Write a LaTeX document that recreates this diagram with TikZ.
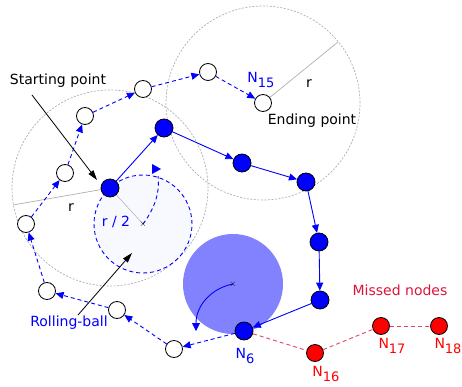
\documentclass[tikz,border=0pt]{standalone}
\usepackage{fontspec}
\setmainfont{DejaVu Sans}
\usetikzlibrary{arrows.meta}
\definecolor{ballfill}{RGB}{248,248,255}
\definecolor{bigball}{RGB}{130,130,255}
\definecolor{missed}{RGB}{220,20,60}
\definecolor{missedline}{RGB}{225,70,100}
\definecolor{gcol}{RGB}{175,175,175}
\newcommand{\subn}[1]{\raisebox{-5pt}{\fontsize{13}{13}\selectfont #1}}
\begin{document}
\begin{tikzpicture}[x=1pt,y=-1pt,
 bnode/.style={circle,draw=black,fill=blue,minimum size=18pt,inner sep=0pt,line width=0.8pt},
 wnode/.style={circle,draw=black,fill=white,minimum size=17pt,inner sep=0pt,line width=0.8pt},
 rnode/.style={circle,draw=black,fill=red,minimum size=17pt,inner sep=0pt,line width=0.8pt},
 gcirc/.style={draw=gcol,line width=0.7pt,dash pattern=on 2pt off 1.5pt},
 gline/.style={draw=gcol,line width=0.7pt},
 solidedge/.style={draw=blue,line width=0.9pt,-{Triangle[length=8pt,width=7pt]}},
 dashedge/.style={draw=blue,line width=0.9pt,dash pattern=on 4pt off 3pt,-{Triangle[length=8pt,width=7pt]}},
 missedge/.style={draw=missedline,line width=0.9pt,dash pattern=on 4pt off 3pt},
 blackarrow/.style={draw=black,line width=0.8pt,-{Triangle[length=10pt,width=6pt]}},
 lbl/.style={font=\fontsize{14}{16}\selectfont,inner sep=0pt},
 xmark/.style={font=\fontsize{9}{9}\selectfont,inner sep=0pt}
]
\useasboundingbox (0,0) rectangle (462,387);

% coordinates
\coordinate (cS) at (110,188);
\coordinate (cE) at (263,103);
\coordinate (cBall) at (143,224);
\coordinate (cBig) at (233,284);

% range circles
\draw[gcirc] (cS) circle[radius=98pt];
\draw[gcirc] (cE) circle[radius=97pt];
\coordinate (rS) at (13,205);
\coordinate (rE) at (338,42);
\draw[gline] (cS) -- (rS);
\draw[gline] (cE) -- (rE);

% rolling ball
\fill[ballfill] (cBall) circle[radius=49pt];
\draw[blue,line width=0.9pt,dash pattern=on 4pt off 3pt] (cBall) circle[radius=49pt];
\draw[gline,line width=0.5pt] (cS) -- (cBall);
\draw[blue,line width=0.9pt,dash pattern=on 4pt off 3pt] (cBall) .. controls (155,208) and (160,192) .. (158,176);
\fill[blue] (152,164) -- (161,169) -- (152,174) -- cycle;
\node[xmark] (xb) at (cBall) {$\times$};

% big ball
\fill[bigball] (cBig) circle[radius=50pt];
\coordinate (bigEnd) at (196,331);
\draw[blue,line width=0.9pt,-{Triangle[length=8pt,width=8pt]}] (cBig) .. controls (212,288) and (196,305) .. (bigEnd);
\node[xmark] (xg) at (cBig) {$\times$};

% nodes
\node[bnode] (S) at (110,188) {};
\node[bnode] (B1) at (164,128) {};
\node[bnode] (B2) at (242,163) {};
\node[bnode] (B3) at (306,182) {};
\node[bnode] (B4) at (319,242) {};
\node[bnode] (B5) at (320,300) {};
\node[bnode] (N6) at (244,331) {};

\node[wnode] (W1) at (263,103) {};
\node[wnode] (W2) at (208,72) {};
\node[wnode] (W3) at (143,89) {};
\node[wnode] (W4) at (85,116) {};
\node[wnode] (W5) at (65,173) {};
\node[wnode] (W6) at (26,224) {};
\node[wnode] (W7) at (47,291) {};
\node[wnode] (W8) at (117,310) {};
\node[wnode] (W9) at (174,349) {};

\node[rnode] (N16) at (315,353) {};
\node[rnode] (N17) at (381,326) {};
\node[rnode] (N18) at (439,326) {};

% edges
\draw[solidedge] (S) -- (B1);
\draw[solidedge] (B1) -- (B2);
\draw[solidedge] (B2) -- (B3);
\draw[solidedge] (B3) -- (B4);
\draw[solidedge] (B4) -- (B5);
\draw[solidedge] (B5) -- (N6);

\draw[dashedge] (N6) -- (W9);
\draw[dashedge] (W9) -- (W8);
\draw[dashedge] (W8) -- (W7);
\draw[dashedge] (W7) -- (W6);
\draw[dashedge] (W6) -- (W5);
\draw[dashedge] (W5) -- (W4);
\draw[dashedge] (W4) -- (W3);
\draw[dashedge] (W3) -- (W2);
\draw[dashedge] (W2) -- (W1);

\draw[missedge] (N6) -- (N16);
\draw[missedge] (N16) -- (N17);
\draw[missedge] (N17) -- (N18);

% labels
\node[lbl,text=blue] (lN15) at (261,80) {N\subn{15}};
\node[lbl,text=blue] (lN6) at (245,356) {N\subn{6}};
\node[lbl,text=red] (lN16) at (326,374) {N\subn{16}};
\node[lbl,text=red] (lN17) at (392,346) {N\subn{17}};
\node[lbl,text=red] (lN18) at (448,346) {N\subn{18}};

\node[lbl] (lstart) at (58,81) {Starting point};
\node[lbl] (lend) at (312,121) {Ending point};
\node[lbl] (lrE) at (309,84) {r};
\node[lbl] (lrS) at (71,208) {r};
\node[lbl,text=blue] (lr2) at (116,222) {r / 2};
\node[lbl,text=blue] (lroll) at (69,323) {Rolling-ball};
\node[lbl,text=missed] (lmiss) at (400,290) {Missed nodes};

\coordinate (tS) at (32,95);
\coordinate (hS) at (97,180);
\draw[blackarrow] (tS) -- (hS);
\coordinate (tR) at (78,315);
\coordinate (hR) at (132,253);
\draw[blackarrow] (tR) -- (hR);
\end{tikzpicture}
\end{document}
